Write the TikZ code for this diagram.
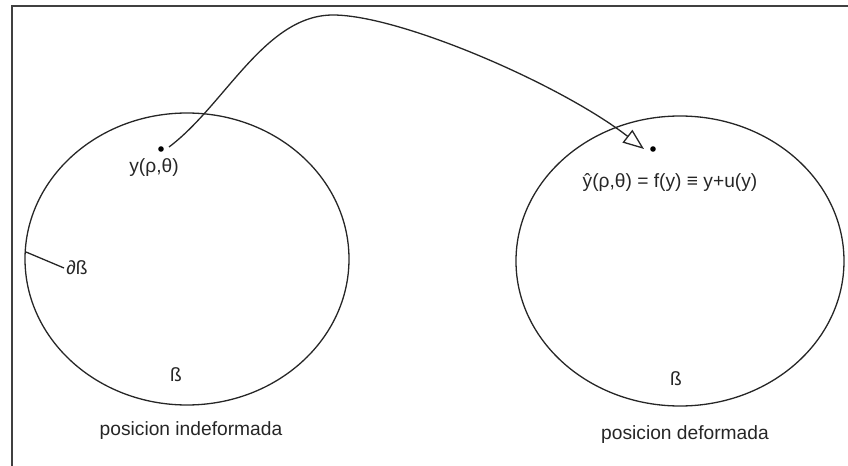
\documentclass[tikz,border=0pt]{standalone}
\usepackage{fontspec}
\setmainfont{Liberation Sans}
\usetikzlibrary{arrows.meta}
\tikzset{
    dotpt/.style={circle, fill=black, inner sep=0pt, minimum size=2.8pt},
    lbl/.style={font=\fontsize{9.6}{11}\selectfont, text=black!85, inner sep=1pt},
    rim/.style={draw=black!85, line width=0.65pt},
    mapline/.style={-{Triangle[open, length=10.5pt, width=8pt]}, line width=0.65pt, black!85}
}
\begin{document}
\begin{tikzpicture}[x=0.5pt, y=-0.5pt]
    \useasboundingbox (0,0) rectangle (848,466);
    \clip (0,0) rectangle (848,466);
    \draw[black!75, line width=1.1pt] (12,6) rectangle (900,520);
    % cuerpos
    \draw[rim] (187,259) ellipse [x radius=162, y radius=146];
    \draw[rim] (680,261) ellipse [x radius=164, y radius=145];
    % puntos
    \node[dotpt] (yA) at (161,149) {};
    \node[dotpt] (yB) at (653,149) {};
    \node[lbl] (yAlbl) at (154,168) {y(ρ,θ)};
    \node[lbl] (yBlbl) at (670,183) {ŷ(ρ,θ) = f(y) ≡ y+u(y)};
    \coordinate (top) at (333,15);
    \draw[mapline] ([shift={(8,-2)}]yA.center) .. controls (225,105) and (265,15) .. (top)
        .. controls (400,15) and (560,84) .. (644,149);
    % borde
    \coordinate (rimA) at (26,252);
    \node[lbl, anchor=west] (dB) at (64,268) {∂ß};
    \draw[rim] (rimA) -- (dB.west);
    \node[lbl] (BA) at (176,375) {ß};
    \node[lbl] (BB) at (676,379) {ß};
    \node[lbl] (capA) at (191,431) {posicion indeformada};
    \node[lbl] (capB) at (685,435) {posicion deformada};
\end{tikzpicture}
\end{document}
